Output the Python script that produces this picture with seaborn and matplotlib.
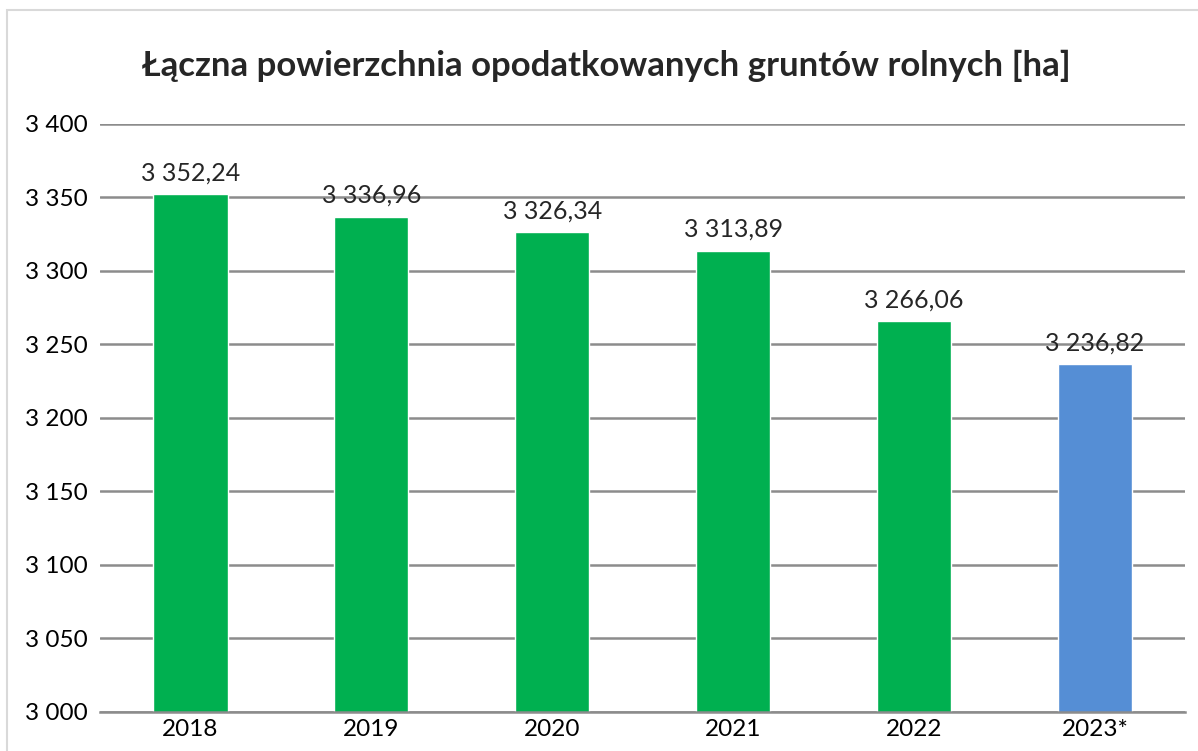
import matplotlib
matplotlib.use("Agg")
import matplotlib.pyplot as plt
import matplotlib.ticker as mticker
from matplotlib.patches import Rectangle
import pandas as pd
import seaborn as sns

sns.set_style("white")
plt.rcParams["font.family"] = ["Lato", "DejaVu Sans"]

# dane
lata = ["2018", "2019", "2020", "2021", "2022", "2023*"]
powierzchnia = [3352.24, 3336.96, 3326.34, 3313.89, 3266.06, 3236.82]
kolory = ["#00B050", "#00B050", "#00B050", "#00B050", "#00B050", "#558ED5"]

df = pd.DataFrame({"rok": lata, "ha": powierzchnia})


def fmt_pl(v, dec=0):
    # separator tysięcy = spacja, przecinek dziesiętny
    s = f"{v:,.{dec}f}"
    return s.replace(",", " ").replace(".", ",")


fig = plt.figure(figsize=(11.98, 7.51), dpi=100)
ax = fig.add_axes([0.0835, 0.052, 0.906, 0.783])

sns.barplot(data=df, x="rok", y="ha", hue="rok", palette=kolory,
            legend=False, width=0.41, ax=ax, saturation=1)

ax.set_ylim(3000, 3400)
ax.yaxis.set_major_locator(mticker.MultipleLocator(50))
ax.yaxis.set_major_formatter(mticker.FuncFormatter(lambda v, p: fmt_pl(v)))
ax.grid(axis="y", color="#8C8C8C", linewidth=1.8)
ax.set_axisbelow(True)
for s in ["top", "right", "left"]:
    ax.spines[s].set_visible(False)
ax.spines["bottom"].set_color("#8C8C8C")
ax.spines["bottom"].set_linewidth(1.8)
ax.tick_params(axis="y", length=0, labelsize=17.5, colors="black", pad=9)
ax.tick_params(axis="x", length=0, labelsize=17.5, colors="black", pad=5)
ax.set_xlabel("")
ax.set_ylabel("")

for i, v in enumerate(powierzchnia):
    ax.text(i, v + 6.5, fmt_pl(v, 2), ha="center", va="bottom", fontsize=18)

fig.text(0.506, 0.912, "Łączna powierzchnia opodatkowanych gruntów rolnych [ha]",
         ha="center", va="center", fontsize=25, fontweight="bold")

# ramka wykresu
fig.patches.append(Rectangle((0.006, -0.01), 1.0, 0.997, transform=fig.transFigure,
                             fill=False, edgecolor="#D9D9D9", linewidth=1.5))

fig.savefig("out.png", dpi=100)
